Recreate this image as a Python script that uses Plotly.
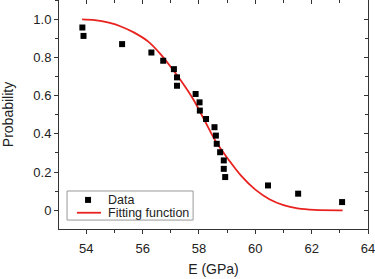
import plotly.graph_objects as go

# Measured data (E in GPa, failure/survival probability)
E_data = [53.86, 53.90, 55.27, 56.31, 56.73, 57.11, 57.22, 57.22, 57.88, 58.02, 58.03,
          58.25, 58.55, 58.60, 58.63, 58.75, 58.88, 58.88, 58.93, 60.45, 61.52, 63.08]
P_data = [0.957, 0.913, 0.870, 0.826, 0.783, 0.739, 0.696, 0.652, 0.609, 0.565, 0.522,
          0.478, 0.435, 0.391, 0.348, 0.304, 0.261, 0.217, 0.174, 0.130, 0.087, 0.043]

# Fitting function
E_fit = [53.85, 54.3, 54.8, 55.25, 55.7, 56.2, 56.65, 57.0, 57.4, 57.8, 58.2, 58.6,
         59.05, 59.5, 60.0, 60.5, 61.0, 61.5, 62.1, 63.1]
P_fit = [1.0, 0.996, 0.982, 0.961, 0.930, 0.883, 0.815, 0.750, 0.670, 0.580, 0.470, 0.360,
         0.265, 0.180, 0.108, 0.058, 0.027, 0.010, 0.002, 0.0]

x_ticks = [54, 56, 58, 60, 62, 64]
y_ticks = [0, 0.2, 0.4, 0.6, 0.8, 1.0]
y_ticktext = ["0", "0.2", "0.4", "0.6", "0.8", "1.0"]
legend_labels = ["Data", "Fitting function"]

X_RANGE = [53.03, 64.0]
Y_RANGE = [-0.098, 1.101]
FONT = "Liberation Sans, Arial, sans-serif"
AX = "#333333"
RED = "#e8231f"

fig = go.Figure()
fig.add_trace(go.Scatter(x=E_fit, y=P_fit, mode="lines", line=dict(color=RED, width=1.8, shape="spline"),
                         name=legend_labels[1], showlegend=False))
fig.add_trace(go.Scatter(x=E_data, y=P_data, mode="markers",
                         marker=dict(symbol="square", size=6, color="black"),
                         name=legend_labels[0], showlegend=False))
# invisible trace to carry mirrored axes
fig.add_trace(go.Scatter(x=E_data, y=P_data, xaxis="x2", yaxis="y2", mode="markers",
                         marker=dict(opacity=0), hoverinfo="skip", showlegend=False))

tickfont = dict(family=FONT, size=13, color="#222")
fig.update_layout(
    width=375, height=279,
    margin=dict(l=59, r=7, t=0, b=50),
    paper_bgcolor="white", plot_bgcolor="white",
    font=dict(family=FONT, size=13, color="#222"),
    xaxis=dict(range=X_RANGE, tickvals=x_ticks, ticks="outside", ticklen=4, tickcolor=AX,
               showline=True, linecolor=AX, linewidth=1, showgrid=False, zeroline=False,
               tickfont=tickfont, automargin=False, ticklabeloverflow="allow", ticklabelstandoff=3,
               minor=dict(dtick=1, tick0=53, ticks="outside", ticklen=3, tickcolor=AX, showgrid=False),
               title=dict(text="E (GPa)", font=dict(family=FONT, size=14), standoff=9)),
    yaxis=dict(range=Y_RANGE, tickvals=y_ticks, ticktext=y_ticktext, ticks="outside", ticklen=4,
               tickcolor=AX, showline=True, linecolor=AX, linewidth=1, showgrid=False, zeroline=False,
               tickfont=tickfont, automargin=False, ticklabeloverflow="allow",
               minor=dict(dtick=0.1, tick0=0, ticks="outside", ticklen=3, tickcolor=AX, showgrid=False),
               title=dict(text="Probability", font=dict(family=FONT, size=14), standoff=16)),
    xaxis2=dict(range=X_RANGE, overlaying="x", side="top", anchor="y", tickvals=x_ticks,
                ticks="inside", ticklen=4, tickcolor=AX, showticklabels=False, showline=False,
                showgrid=False, zeroline=False, automargin=False,
                minor=dict(dtick=1, tick0=53, ticks="inside", ticklen=3, tickcolor=AX, showgrid=False)),
    yaxis2=dict(range=Y_RANGE, overlaying="y", side="right", anchor="x", tickvals=y_ticks,
                ticks="inside", ticklen=4, tickcolor=AX, showticklabels=False, showline=True,
                linecolor=AX, linewidth=1, showgrid=False, zeroline=False, automargin=False,
                minor=dict(dtick=0.1, tick0=0, ticks="inside", ticklen=3, tickcolor=AX, showgrid=False)),
)

# Custom legend box
fig.add_shape(type="rect", xref="paper", yref="paper", x0=0.026, x1=0.434, y0=0.039, y1=0.166,
              line=dict(color="#999999", width=1), fillcolor="white", layer="above")
fig.add_shape(type="rect", xref="paper", yref="paper", xsizemode="pixel", ysizemode="pixel",
              xanchor=0.094, yanchor=0.127, x0=-3, x1=3, y0=-3, y1=3,
              line=dict(width=0), fillcolor="black", layer="above")
fig.add_shape(type="line", xref="paper", yref="paper", x0=0.058, x1=0.136, y0=0.071, y1=0.071,
              line=dict(color=RED, width=1.8), layer="above")
fig.add_annotation(xref="paper", yref="paper", x=0.152, y=0.127, text=legend_labels[0],
                   showarrow=False, xanchor="left", yanchor="middle",
                   font=dict(family=FONT, size=12.5, color="#222"))
fig.add_annotation(xref="paper", yref="paper", x=0.152, y=0.071, text=legend_labels[1],
                   showarrow=False, xanchor="left", yanchor="middle",
                   font=dict(family=FONT, size=12.5, color="#222"))

fig.write_html("out.html", config={"displayModeBar": False},
               post_script="document.body.style.margin='0';document.body.style.overflow='hidden';")
